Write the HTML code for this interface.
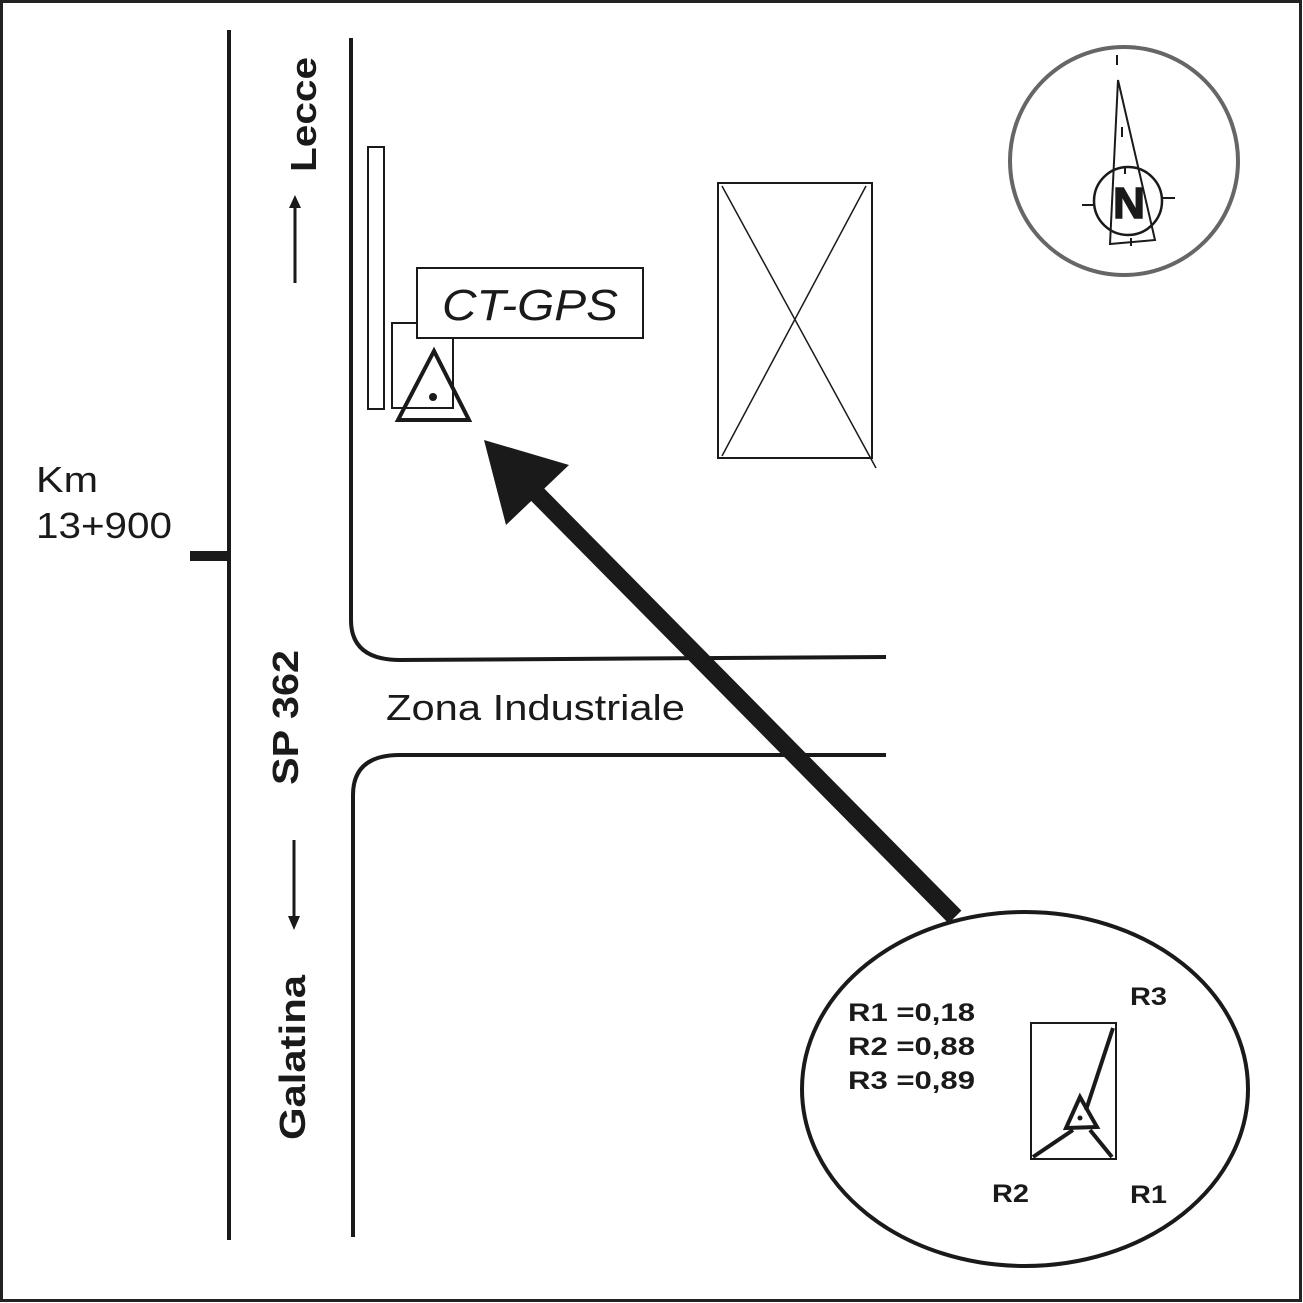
<!DOCTYPE html>
<html><head><style>
html,body{margin:0;padding:0;background:#fff}
svg{display:block}
text{font-family:"Liberation Sans",Arial,sans-serif;fill:#1a1a1a}
</style></head><body>
<svg width="1303" height="1303" viewBox="0 0 1303 1303" xmlns="http://www.w3.org/2000/svg">
<rect x="1.5" y="1.5" width="1299" height="1299" fill="#fff" stroke="#222" stroke-width="3"/>
<g fill="none" stroke="#1a1a1a">
<line x1="229" y1="30" x2="229" y2="1240" stroke-width="4"/>
<line x1="190" y1="556" x2="229" y2="556" stroke-width="10"/>
<path d="M351 38 V620 Q351 660 400 660 L886 657" stroke-width="4"/>
<path d="M353 1237 V795 Q353 755 400 755 L886 755" stroke-width="4"/>
<rect x="368" y="147" width="16" height="262" stroke-width="2"/>
<rect x="392" y="323" width="61" height="85" stroke-width="2"/>
<rect x="417" y="268" width="226" height="70" stroke-width="2" fill="#fff"/>
<polygon points="434,351 398,420 469,420" stroke-width="4"/>
<rect x="718" y="183" width="154" height="275" stroke-width="2"/>
<line x1="722" y1="186" x2="876" y2="468" stroke-width="1.5"/>
<line x1="866" y1="186" x2="722" y2="456" stroke-width="1.5"/>
<line x1="295" y1="283" x2="295" y2="205" stroke-width="3"/>
<line x1="294" y1="840" x2="294" y2="918" stroke-width="3"/>
<circle cx="1124" cy="161" r="114" stroke="#666" stroke-width="4"/>
<polygon points="1118,80 1110,244 1155,240" stroke-width="2"/>
<circle cx="1128" cy="201" r="34" stroke-width="2.5"/>
<line x1="1117" y1="55" x2="1117" y2="65" stroke-width="2"/>
<line x1="1122" y1="127" x2="1122" y2="137" stroke-width="2"/>
<line x1="1125" y1="166" x2="1125" y2="174" stroke-width="2"/>
<line x1="1082" y1="205" x2="1094" y2="205" stroke-width="2"/>
<line x1="1163" y1="198" x2="1175" y2="198" stroke-width="2"/>
<line x1="1131" y1="238" x2="1131" y2="246" stroke-width="2"/>
<ellipse cx="1025" cy="1089" rx="223" ry="177" stroke-width="4"/>
<rect x="1031" y="1023" width="85" height="136" stroke-width="2"/>
<polygon points="1080,1097 1066,1128 1097,1127" stroke-width="4"/>
<line x1="1086" y1="1110" x2="1113" y2="1028" stroke-width="4"/>
<line x1="1073" y1="1130" x2="1033" y2="1157" stroke-width="4"/>
<line x1="1090" y1="1130" x2="1112" y2="1157" stroke-width="4"/>
<line x1="955" y1="917" x2="535" y2="492" stroke-width="18"/>
</g>
<polygon points="484,440 569,465 506,525" fill="#1a1a1a"/>
<polygon points="295,195 289,208 301,208" fill="#1a1a1a"/>
<polygon points="294,930 288,916 300,916" fill="#1a1a1a"/>
<circle cx="433" cy="397" r="4" fill="#1a1a1a"/>
<circle cx="1080" cy="1118" r="2.5" fill="#1a1a1a"/>
<text x="1129" y="218" font-size="44" font-weight="bold" text-anchor="middle" stroke="#1a1a1a" stroke-width="1.5">N</text>
<text x="442" y="320" font-size="44" font-style="italic" textLength="176" lengthAdjust="spacingAndGlyphs">CT-GPS</text>
<text x="36" y="492" font-size="36" textLength="62" lengthAdjust="spacingAndGlyphs">Km</text>
<text x="36" y="538" font-size="36" textLength="136" lengthAdjust="spacingAndGlyphs">13+900</text>
<text x="386" y="720" font-size="36" textLength="299" lengthAdjust="spacingAndGlyphs">Zona Industriale</text>
<text transform="translate(316,172) rotate(-90)" font-size="36" font-weight="bold" textLength="115" lengthAdjust="spacingAndGlyphs">Lecce</text>
<text transform="translate(298,785) rotate(-90)" font-size="36" font-weight="bold" textLength="135" lengthAdjust="spacingAndGlyphs">SP 362</text>
<text transform="translate(305,1140) rotate(-90)" font-size="36" font-weight="bold" textLength="165" lengthAdjust="spacingAndGlyphs">Galatina</text>
<text x="848" y="1021" font-size="25" font-weight="bold" textLength="127" lengthAdjust="spacingAndGlyphs">R1 =0,18</text>
<text x="848" y="1055" font-size="25" font-weight="bold" textLength="127" lengthAdjust="spacingAndGlyphs">R2 =0,88</text>
<text x="848" y="1089" font-size="25" font-weight="bold" textLength="127" lengthAdjust="spacingAndGlyphs">R3 =0,89</text>
<text x="1130" y="1005" font-size="25" font-weight="bold" textLength="37" lengthAdjust="spacingAndGlyphs">R3</text>
<text x="992" y="1202" font-size="25" font-weight="bold" textLength="37" lengthAdjust="spacingAndGlyphs">R2</text>
<text x="1130" y="1203" font-size="25" font-weight="bold" textLength="37" lengthAdjust="spacingAndGlyphs">R1</text>
</svg>
</body></html>
